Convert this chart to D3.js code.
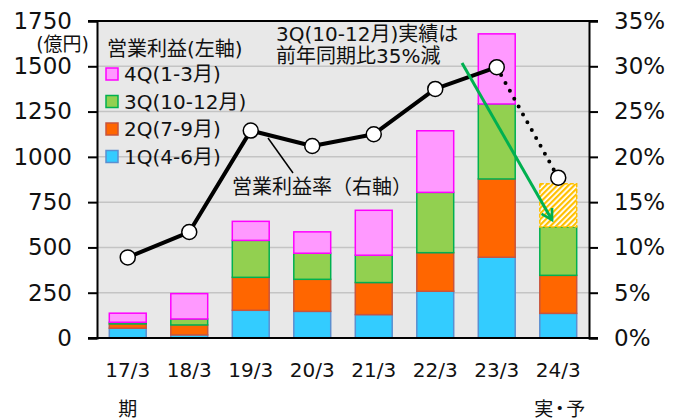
<!DOCTYPE html>
<html>
<head>
<meta charset="utf-8">
<script src="https://cdn.jsdelivr.net/npm/d3@7"></script>
<style>
  body { margin: 0; background: #fff; }
  svg text { font-family: "DejaVu Sans", "Noto Sans CJK JP", sans-serif; fill: #111; }
</style>
</head>
<body>
<svg width="682" height="419"></svg>
<script>
// 决算期
const periods = ["17/3", "18/3", "19/3", "20/3", "21/3", "22/3", "23/3", "24/3"];
// 四半期営業利益（億円）
const q1 = [54, 17, 153, 147, 129, 258, 446, 136];
const q2 = [24, 55, 182, 177, 177, 213, 432, 210];
const q3 = [9, 33, 204, 144, 151, 333, 414, 267];
const q4 = [50, 140, 105, 118, 248, 340, 387, 0];
const q4Forecast = [0, 0, 0, 0, 0, 0, 0, 238]; // 24/3 予想
// 営業利益率（%）
const margin = [8.9, 11.7, 22.9, 21.2, 22.5, 27.5, 29.9, 17.7];
const leftTicks = [0, 250, 500, 750, 1000, 1250, 1500, 1750];
const rightTicks = [0, 5, 10, 15, 20, 25, 30, 35];

const svg = d3.select("svg");
const L = 97, R = 589, T = 21, B = 338;

const x = d3.scaleBand().domain(periods).range([L, R]).paddingInner(0.4).paddingOuter(0.2);
const y = d3.scaleLinear().domain([0, 1750]).range([B, T]);
const y2 = d3.scaleLinear().domain([0, 35]).range([B, T]);

// 斜线填充
const defs = svg.append("defs");
const pat = defs.append("pattern")
  .attr("id", "hatch").attr("patternUnits", "userSpaceOnUse")
  .attr("width", 4).attr("height", 4).attr("patternTransform", "rotate(45)");
pat.append("rect").attr("width", 4).attr("height", 4).attr("fill", "#fff");
pat.append("rect").attr("width", 2.2).attr("height", 4).attr("fill", "#ffc000");

// 背景
svg.append("rect").attr("x", L).attr("y", T).attr("width", R - L).attr("height", B - T).attr("fill", "#e8e8e8");

// 网格线
svg.append("g").selectAll("line").data(leftTicks.slice(1, -1)).join("line")
  .attr("x1", L).attr("x2", R).attr("y1", d => y(d)).attr("y2", d => y(d))
  .attr("stroke", "#c4c4c4").attr("stroke-width", 1.5);

// 堆叠柱
const rows = periods.map((p, i) => ({ p, q1: q1[i], q2: q2[i], q3: q3[i], q4: q4[i], fc: q4Forecast[i] }));
const keys = ["q1", "q2", "q3", "q4", "fc"];
const fills = { q1: "#33ccff", q2: "#ff6600", q3: "#92d050", q4: "#ff99ff", fc: "url(#hatch)" };
const strokes = { q1: "#5b8fd0", q2: "#c8553d", q3: "#00b050", q4: "#ff00ff", fc: "#ffc000" };
const series = d3.stack().keys(keys)(rows);

svg.append("g").selectAll("g").data(series).join("g")
  .each(function (s) {
    d3.select(this).selectAll("rect").data(s.filter(d => d[1] - d[0] > 0)).join("rect")
      .attr("x", d => x(d.data.p))
      .attr("width", x.bandwidth())
      .attr("y", d => y(d[1]))
      .attr("height", d => y(d[0]) - y(d[1]))
      .attr("fill", fills[s.key])
      .attr("stroke", strokes[s.key])
      .attr("stroke-width", 1.5)
      .attr("stroke-dasharray", s.key === "fc" ? "4 2" : null);
  });

// 轴线
const axisLines = svg.append("g").attr("stroke", "#000").attr("stroke-width", 2);
axisLines.append("line").attr("x1", 88).attr("x2", 598).attr("y1", B).attr("y2", B);
axisLines.append("line").attr("x1", 88).attr("x2", 598).attr("y1", T).attr("y2", T);

const yAxisL = svg.append("g").attr("transform", `translate(${L},0)`)
  .call(d3.axisLeft(y).tickValues(leftTicks).tickSize(9).tickPadding(16).tickFormat(d3.format("d")));
const yAxisR = svg.append("g").attr("transform", `translate(${R},0)`)
  .call(d3.axisRight(y2).tickValues(rightTicks).tickSize(9).tickPadding(16).tickFormat(d => d + "%"));
[yAxisL, yAxisR].forEach(g => {
  g.select(".domain").attr("stroke", "#000").attr("stroke-width", 2);
  g.selectAll(".tick line").attr("stroke", "#000").attr("stroke-width", 2);
  g.selectAll("text").style("font-size", "23px").attr("fill", "#111");
});

const xAxis = svg.append("g").attr("transform", `translate(0,${B})`)
  .call(d3.axisBottom(x).tickSize(0).tickPadding(25));
xAxis.select(".domain").remove();
xAxis.selectAll("text").style("font-size", "20px").attr("fill", "#111");

svg.append("text").attr("x", 89).attr("y", 51).attr("text-anchor", "end")
  .style("font-size", "19px").text("(億円)");
svg.append("text").attr("x", x("17/3") + x.bandwidth() / 2).attr("y", 416).attr("text-anchor", "middle")
  .style("font-size", "19px").text("期");
svg.append("text").attr("x", x("24/3") + x.bandwidth() / 2).attr("y", 416).attr("text-anchor", "middle")
  .style("font-size", "19px").style("letter-spacing", "-3px").text("実・予");

// 营业利益率折线
const pts = periods.map((p, i) => ({ x: x(p) + x.bandwidth() / 2, y: y2(margin[i]) }));
const line = d3.line().x(d => d.x).y(d => d.y);
svg.append("path").attr("d", line(pts.slice(0, 7)))
  .attr("fill", "none").attr("stroke", "#000").attr("stroke-width", 4).attr("stroke-linejoin", "round");
svg.append("path").attr("d", line(pts.slice(6)))
  .attr("fill", "none").attr("stroke", "#000").attr("stroke-width", 4)
  .attr("stroke-linecap", "round").attr("stroke-dasharray", "0 9");
svg.append("g").selectAll("circle").data(pts).join("circle")
  .attr("cx", d => d.x).attr("cy", d => d.y).attr("r", 7.5)
  .attr("fill", "#fff").attr("stroke", "#000").attr("stroke-width", 1.5);

// 引出线与标注
svg.append("line").attr("x1", 268).attr("y1", 138).attr("x2", 293).attr("y2", 173)
  .attr("stroke", "#000").attr("stroke-width", 1.5);
svg.append("text").attr("x", 232).attr("y", 194).style("font-size", "20px").text("営業利益率（右軸）");

svg.append("text").attr("x", 276).attr("y", 41).style("font-size", "20px").text("3Q(10-12月)実績は");
svg.append("text").attr("x", 276).attr("y", 63).style("font-size", "20px").text("前年同期比35%減");

defs.append("marker").attr("id", "arr").attr("viewBox", "0 0 10 10").attr("refX", 8).attr("refY", 5)
  .attr("markerWidth", 5).attr("markerHeight", 5).attr("orient", "auto")
  .append("path").attr("d", "M1,1 L8,5 L1,9").attr("fill", "none").attr("stroke", "#00b050").attr("stroke-width", 1.8);
svg.append("line").attr("x1", 462).attr("y1", 63).attr("x2", 552).attr("y2", 220)
  .attr("stroke", "#00b050").attr("stroke-width", 3).attr("marker-end", "url(#arr)");

// 图例
const legendItems = [
  { label: "4Q(1-3月)", key: "q4" },
  { label: "3Q(10-12月)", key: "q3" },
  { label: "2Q(7-9月)", key: "q2" },
  { label: "1Q(4-6月)", key: "q1" },
];
svg.append("text").attr("x", 107).attr("y", 56).style("font-size", "20px").text("営業利益(左軸)");
const lg = svg.append("g").selectAll("g").data(legendItems).join("g")
  .attr("transform", (d, i) => `translate(106,${74 + i * 27.5})`);
lg.append("rect").attr("x", 0).attr("y", -6).attr("width", 12).attr("height", 12)
  .attr("fill", d => fills[d.key]).attr("stroke", d => strokes[d.key]).attr("stroke-width", 1.5);
lg.append("text").attr("x", 18).attr("y", 7).style("font-size", "20px").text(d => d.label);
</script>
</body>
</html>
